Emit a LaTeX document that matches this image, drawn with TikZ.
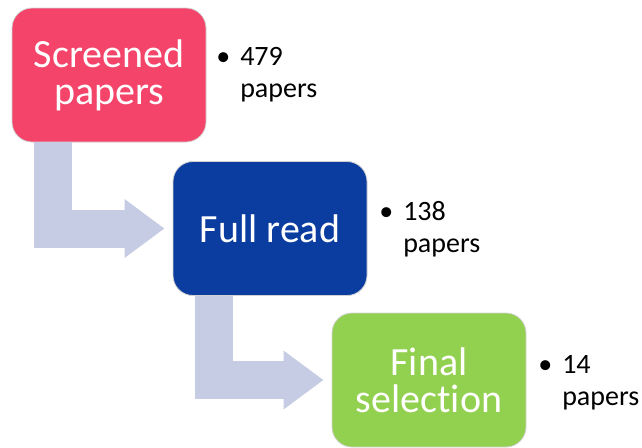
\documentclass[tikz,border=0pt]{standalone}
\usepackage{fontspec}
\setmainfont{Carlito}[Ligatures=NoCommon]
\usetikzlibrary{arrows.meta,calc}
\definecolor{screenred}{HTML}{F4446A}
\definecolor{readblue}{HTML}{0A3D9F}
\definecolor{finalgreen}{HTML}{92D050}
\definecolor{flowgray}{HTML}{C5CCE3}

\begin{document}
\begin{tikzpicture}[x=0.75pt, y=-0.75pt,
    stage/.style={rounded corners=15pt, draw=white!82!black, line width=0.6pt,
      minimum width=145.5pt, minimum height=100.5pt, align=center,
      text=white, font=\fontsize{30}{27.5}\selectfont},
    count/.style={anchor=base west, align=left, inner sep=0pt,
      font=\fontsize{21}{24}\selectfont},
    flow/.style={draw=flowgray, line width=28.5pt, line join=miter,
      -{Triangle[length=30pt, width=42pt]}, shorten >=6pt}]
  \useasboundingbox (0,0) rectangle (642,447);

  \node[stage, fill=screenred] (screen) at (109,75) {Screened\\papers};
  \node[count] (screencount) at (240,97) {\llap{\textbullet\hspace{7.5pt}}479\\papers};

  \node[stage, fill=readblue] (full) at (270,228.5) {Full read};
  \node[count] (fullcount) at (403,252) {\llap{\textbullet\hspace{7.5pt}}138\\papers};

  \node[stage, fill=finalgreen] (final) at (429,380) {Final\\selection};
  \node[count] (finalcount) at (562,405) {\llap{\textbullet\hspace{7.5pt}}14\\papers};

  % bent arrows between stages
  \draw[flow] ($(screen.south west)+(41.5,0)$) |- (full.west);
  \draw[flow] ($(full.south west)+(41,0)$) |- (final.west);
\end{tikzpicture}
\end{document}
